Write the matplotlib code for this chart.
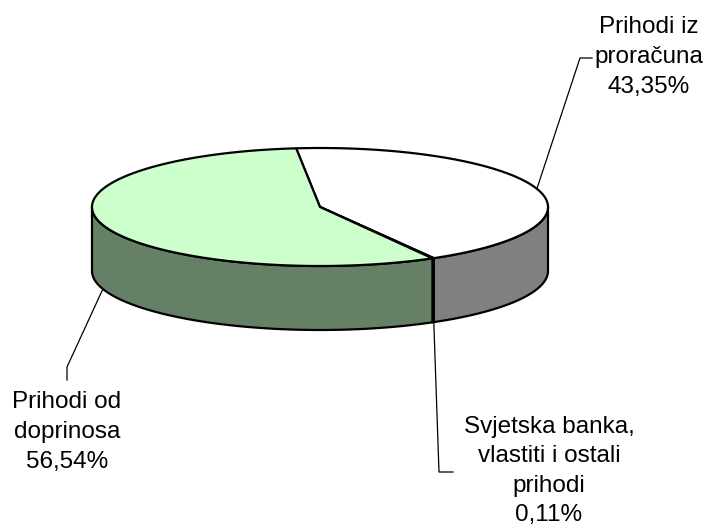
import numpy as np
import matplotlib
matplotlib.use("Agg")
import matplotlib.pyplot as plt
from matplotlib.patches import Polygon

# data (percent shares, clockwise from top)
labels = ["Prihodi iz\nproračuna\n43,35%",
          "Svjetska banka,\nvlastiti i ostali\nprihodi\n0,11%",
          "Prihodi od\ndoprinosa\n56,54%"]
values = [43.35, 0.11, 56.54]
top_colors = ["#FFFFFF", "#9999FF", "#CCFFCC"]
side_colors = ["#808080", "#4D4D80", "#668066"]

# pie geometry in pixels
cx, cy = 320, 207
a, b = 228, 59
depth = 64
start = 96.0

plt.rcParams['font.family'] = ['Liberation Sans', 'DejaVu Sans']

fig = plt.figure(figsize=(7.12, 5.29), dpi=100)
ax = fig.add_axes([0, 0, 1, 1])
ax.set_xlim(0, 712)
ax.set_ylim(529, 0)
ax.axis('off')


def pt(t, dy=0):
    r = np.radians(t)
    return cx + a * np.cos(r), cy - b * np.sin(r) + dy


total = sum(values)
angles = [start]
for v in values:
    angles.append(angles[-1] - v / total * 360)

# side faces (only the front half is visible)
for i in range(len(values)):
    t0, t1 = angles[i], angles[i + 1]
    # front half is t in [-180, 0] (mod 360)
    for shift in (0, -360, 360):
        lo = max(t1 + shift, -180)
        hi = min(t0 + shift, 0)
        if hi <= lo:
            continue
        ts = np.linspace(hi, lo, 80)
        upper = [pt(t) for t in ts]
        lower = [pt(t, depth) for t in ts[::-1]]
        ax.add_patch(Polygon(upper + lower, closed=True, facecolor=side_colors[i],
                             edgecolor='black', linewidth=1.6, joinstyle='round'))

# top wedges
for i in range(len(values)):
    t0, t1 = angles[i], angles[i + 1]
    ts = np.linspace(t0, t1, 200)
    verts = [(cx, cy)] + [pt(t) for t in ts]
    ax.add_patch(Polygon(verts, closed=True, facecolor=top_colors[i],
                         edgecolor='black', linewidth=1.6, joinstyle='round'))

# leader lines and labels
mid = [(angles[i] + angles[i + 1]) / 2 for i in range(len(values))]
txt = dict(ha='center', va='center', multialignment='center', fontsize=17.5, linespacing=1.45)

x0, y0 = pt(mid[0])
ax.plot([x0, 580, 592], [y0, 58, 58], color='black', lw=0.9)
ax.text(649, 57, labels[0], **txt)

x1, y1 = pt(angles[1], depth)
ax.plot([x1, 439, 453], [y1, 472, 472], color='black', lw=0.9)
ax.text(549, 471, labels[1], **txt)

x2, y2 = pt(mid[2], depth)
ax.plot([x2, 67, 67], [y2, 367, 380], color='black', lw=0.9)
ax.text(67, 432, labels[2], **txt)

fig.savefig("out.png", dpi=100)
